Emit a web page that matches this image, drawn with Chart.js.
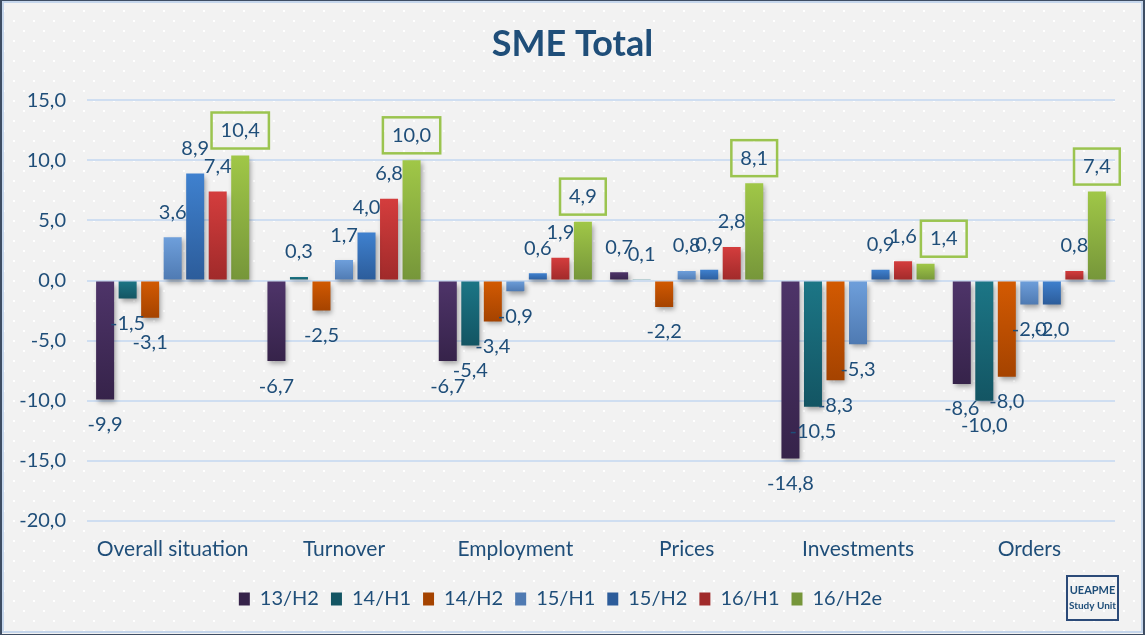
<!DOCTYPE html>
<html>
<head>
<meta charset="utf-8">
<script src="https://cdn.jsdelivr.net/npm/chart.js@4.4.1/dist/chart.umd.min.js"></script>
<style>
  html, body { margin: 0; padding: 0; background: #f2f2f2; }
  #wrap { width: 1145px; height: 635px; }
</style>
</head>
<body>
<div id="wrap"><canvas id="chart" width="1145" height="635"></canvas></div>
<script>
// Kategorien und Perioden
const categories = ['Overall situation', 'Turnover', 'Employment', 'Prices', 'Investments', 'Orders'];
const periods = ['13/H2', '14/H1', '14/H2', '15/H1', '15/H2', '16/H1', '16/H2e'];

// Werte je Periode (Reihenfolge wie categories)
const p13H2 = [-9.9, -6.7, -6.7, 0.7, -14.8, -8.6];
const p14H1 = [-1.5, 0.3, -5.4, 0.1, -10.5, -10.0];
const p14H2 = [-3.1, -2.5, -3.4, -2.2, -8.3, -8.0];
const p15H1 = [3.6, 1.7, -0.9, 0.8, -5.3, -2.0];
const p15H2 = [8.9, 4.0, 0.6, 0.9, 0.9, -2.0];
const p16H1 = [7.4, 6.8, 1.9, 2.8, 1.6, 0.8];
const p16H2e = [10.4, 10.0, 4.9, 8.1, 1.4, 7.4];

// Achse
const yMin = -20, yMax = 15, yStep = 5;

const FONT = 'Lato';
const TEXT = '#1F4E79';

// Farben oben -> unten (Verlauf)
const colors = [
  ['#4E3469', '#36234A'],
  ['#1C7686', '#135563'],
  ['#D35A02', '#A54300'],
  ['#6E9FDB', '#4F7AB2'],
  ['#3F81CF', '#2C5C9A'],
  ['#D43D3D', '#A02A2A'],
  ['#A0C747', '#76963A'],
];

const fmt = v => v.toFixed(1).replace('.', ',');

function barFill(top, bottom) {
  return ctx => {
    const chart = ctx.chart;
    const y = chart.scales && chart.scales.y;
    if (ctx.type !== 'data' || !y) return top;
    const y0 = y.getPixelForValue(0), y1 = y.getPixelForValue(ctx.raw);
    if (!isFinite(y0) || !isFinite(y1) || y0 === y1) return top;
    const g = chart.ctx.createLinearGradient(0, Math.min(y0, y1), 0, Math.max(y0, y1));
    g.addColorStop(0, top);
    g.addColorStop(1, bottom);
    return g;
  };
}

const series = [p13H2, p14H1, p14H2, p15H1, p15H2, p16H1, p16H2e];

// Hintergrund mit Punktraster + Rahmen
const background = {
  id: 'background',
  beforeDraw(chart) {
    const c = chart.ctx, w = chart.width, h = chart.height;
    c.save();
    c.fillStyle = '#F2F2F2';
    c.fillRect(0, 0, w, h);
    c.fillStyle = '#FFFFFF';
    for (let row = 0; row * 10 < h; row++) {
      const off = row % 2 ? 3 : 13;
      for (let x = off; x < w; x += 20) c.fillRect(x, row * 10, 2, 2);
    }
    c.strokeStyle = '#C5D6EC';
    c.lineWidth = 2;
    c.strokeRect(3, 2, w - 6, h - 5);
    c.strokeStyle = '#3E4D63';
    c.lineWidth = 2;
    c.strokeRect(1, 0, w - 2, h);
    c.restore();
  },
  afterDraw(chart) {
    const c = chart.ctx;
    c.save();
    c.strokeStyle = '#2B4A78';
    c.lineWidth = 2;
    c.strokeRect(1067, 576, 51, 44);
    c.fillStyle = TEXT;
    c.textAlign = 'center';
    c.textBaseline = 'middle';
    c.font = 'bold 11px ' + FONT;
    c.fillText('UEAPME', 1092.5, 590);
    c.font = 'bold 10px ' + FONT;
    c.fillText('Study Unit', 1092.5, 606);
    c.restore();
  },
  afterLayout(chart) {
    // Titel und Legende wie im Original leicht versetzt
    chart.titleBlock.left += 15;
    chart.titleBlock.right += 15;
    chart.legend.left += 3;
    chart.legend.right += 3;
  }
};

// Schatten unter den Balken
const barShadow = {
  id: 'barShadow',
  beforeDatasetDraw(chart) {
    const c = chart.ctx;
    c.save();
    c.shadowColor = 'rgba(0,0,0,0.35)';
    c.shadowBlur = 5;
    c.shadowOffsetX = 2;
    c.shadowOffsetY = 3;
  },
  afterDatasetDraw(chart) {
    chart.ctx.restore();
  }
};

// Wertebeschriftung, letzte Periode mit grünem Kasten
const valueLabels = {
  id: 'valueLabels',
  afterDatasetsDraw(chart) {
    const c = chart.ctx;
    const last = chart.data.datasets.length - 1;
    c.save();
    c.font = '20px ' + FONT;
    c.textAlign = 'center';
    c.textBaseline = 'middle';
    const pos = v => (v >= 0 ? -25 : 25);
    chart.data.datasets.forEach((ds, i) => {
      const meta = chart.getDatasetMeta(i);
      meta.data.forEach((bar, j) => {
        const v = ds.data[j];
        const txt = fmt(v);
        const y = bar.y + pos(v);
        let x = bar.x;
        if (i === last) {
          const tw = c.measureText(txt).width;
          // Kasten nach rechts schieben, wenn er die Nachbarbeschriftung verdeckt
          const prev = chart.getDatasetMeta(i - 1).data[j];
          const pv = chart.data.datasets[i - 1].data[j];
          const py = prev.y + pos(pv);
          const pRight = prev.x + c.measureText(fmt(pv)).width / 2;
          if (Math.abs(py - y) < 28 && x - tw / 2 - 9 < pRight) x = pRight + 4 + tw / 2 + 9;
          c.strokeStyle = '#9BC44F';
          c.lineWidth = 2.5;
          c.strokeRect(x - tw / 2 - 9, y - 18, tw + 18, 36);
        }
        c.fillStyle = TEXT;
        c.fillText(txt, x, y);
      });
    });
    c.restore();
  }
};

new Chart(document.getElementById('chart'), {
  type: 'bar',
  data: {
    labels: categories,
    datasets: periods.map((p, i) => ({
      label: p,
      data: series[i],
      backgroundColor: barFill(colors[i][0], colors[i][1]),
      borderWidth: 0,
      categoryPercentage: 0.92,
      barPercentage: 0.8
    }))
  },
  options: {
    responsive: false,
    animation: false,
    layout: { padding: { left: 0, right: 30, top: 0, bottom: 16 } },
    scales: {
      x: {
        grid: { display: false },
        border: { display: false },
        ticks: { color: TEXT, font: { family: FONT, size: 21 }, padding: 8 },
        afterFit: s => { s.height = 56; }
      },
      y: {
        min: yMin,
        max: yMax,
        grid: { color: '#CFDEF1', lineWidth: 2, drawTicks: false },
        border: { display: false },
        ticks: {
          stepSize: yStep,
          color: TEXT,
          font: { family: FONT, size: 20 },
          padding: 21,
          callback: v => fmt(v)
        },
        afterFit: s => { s.width = 87; }
      }
    },
    plugins: {
      title: {
        display: true,
        text: 'SME Total',
        color: TEXT,
        font: { family: FONT, size: 36, weight: 'bold' },
        padding: { top: 23, bottom: 34 }
      },
      legend: {
        position: 'bottom',
        labels: {
          color: TEXT,
          font: { family: FONT, size: 20 },
          boxWidth: 11,
          boxHeight: 13,
          padding: 12
        }
      },
      tooltip: { enabled: false }
    }
  },
  plugins: [background, barShadow, valueLabels]
});
</script>
</body>
</html>
